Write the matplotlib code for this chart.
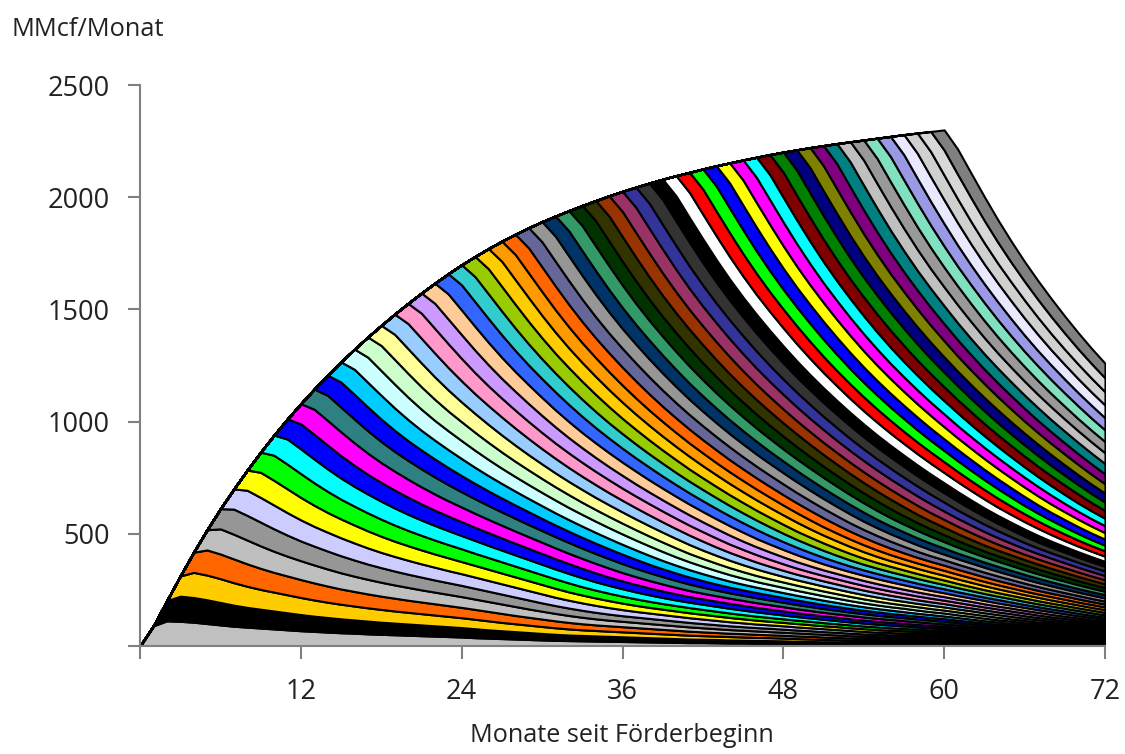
import matplotlib
matplotlib.use('Agg')
import numpy as np
import matplotlib.pyplot as plt

# production of one well per month of age (MMcf/month), age 1..72
well_rate = [90, 112, 110, 106, 100, 94, 88, 84, 80, 76, 72, 68,
             65, 62, 59, 57, 54, 52, 50, 48, 46, 44, 42, 40,
             37, 35, 33, 31, 29, 27, 25, 24, 23, 22, 21, 20,
             19, 18, 17, 16, 15, 15, 14, 13, 13, 12, 12, 11,
             10, 10, 9, 9, 8, 8, 8, 8, 8, 7, 7, 7,
             5, 5, 4, 4, 4, 3, 3, 3, 3, 2, 2, 2]
months = list(range(73))
n_wells = 60

well_colors = [
    '#C0C0C0', '#000000', '#FFCC00', '#FF6600', '#BFBFBF', '#969696', '#CCCCFF', '#FFFF00',
    '#00FF00', '#00FFFF', '#0000FF', '#FF00FF', '#2F8080', '#0000FF', '#00CCFF', '#CCFFFF',
    '#CCFFCC', '#FFFF99', '#99CCFF', '#FF99CC', '#CC99FF', '#FFCC99', '#3366FF', '#33CCCC',
    '#99CC00', '#FFCC00', '#FF9900', '#FF6600', '#666699', '#969696', '#003366', '#339966',
    '#003300', '#333300', '#993300', '#993366', '#333399', '#333333', '#000000', '#FFFFFF',
    '#FF0000', '#00FF00', '#0000FF', '#FFFF00', '#FF00FF', '#00FFFF', '#800000', '#008000',
    '#000080', '#808000', '#800080', '#008080', '#C0C0C0', '#999999', '#80E0C0', '#9999E6',
    '#E8E8FF', '#D0D0D0', '#D8D8D8', '#808080']

x_ticks = [0, 12, 24, 36, 48, 60, 72]
x_labels = ['', '12', '24', '36', '48', '60', '72']
y_ticks = [0, 500, 1000, 1500, 2000, 2500]
y_labels = ['', '500', '1000', '1500', '2000', '2500']

# every well follows the same curve, one new well each month
stack = np.zeros((n_wells, len(months)))
for k in range(n_wells):
    n = len(months) - k - 1
    stack[k, k + 1:] = well_rate[:n]

plt.rcParams['font.family'] = ['Open Sans', 'DejaVu Sans']
W, H = 1125, 754
fig = plt.figure(figsize=(W / 100, H / 100), dpi=100)
ax = fig.add_axes([140 / W, 1 - 646 / H, 965 / W, 561 / H])

ax.stackplot(months, stack, colors=well_colors, edgecolor='black', linewidth=1.5)

ax.set_xlim(0, 72)
ax.set_ylim(0, 2500)
ax.set_xticks(x_ticks)
ax.set_xticklabels(x_labels)
ax.set_yticks(y_ticks)
ax.set_yticklabels(y_labels)
ax.tick_params(axis='both', length=9, width=1.5, color='#808080', labelsize=19.5, labelcolor='#222222', pad=13)
ax.tick_params(axis='x', pad=14)
ax.spines['top'].set_visible(False)
ax.spines['right'].set_visible(False)
for side in ['left', 'bottom']:
    ax.spines[side].set_color('#808080')
    ax.spines[side].set_linewidth(1.5)

fig.text(12 / W, 1 - 30 / H, 'MMcf/Monat', fontsize=18.3, color='#222222', va='center', ha='left')
fig.text(622 / W, 1 - 735 / H, 'Monate seit Förderbeginn', fontsize=18.2, color='#222222', va='center', ha='center')

fig.savefig('out.png', dpi=100)
